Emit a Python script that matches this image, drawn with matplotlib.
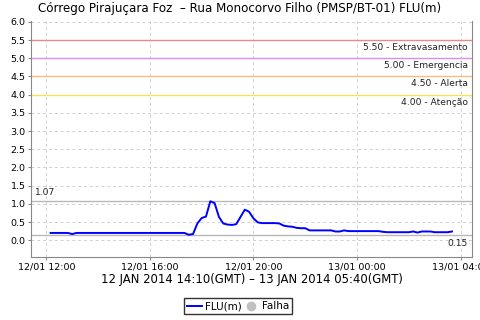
#!/usr/bin/env python3
# -*- coding: utf-8 -*-

from datetime import datetime, timedelta

import matplotlib
matplotlib.use("Agg")
import matplotlib.pyplot as plt
import matplotlib.dates as mdates
from matplotlib.lines import Line2D

# ---- data -----------------------------------------------------------------
START = datetime(2014, 1, 12, 12, 10)      # local time, every 10 min
STEP_MIN = 10

flu_m = [
    # 12:10 .. 17:20
    0.20, 0.20, 0.20, 0.20, 0.20, 0.17, 0.20, 0.20, 0.20, 0.20,
    0.20, 0.20, 0.20, 0.20, 0.20, 0.20, 0.20, 0.20, 0.20, 0.20,
    0.20, 0.20, 0.20, 0.20, 0.20, 0.20, 0.20, 0.20, 0.20, 0.20,
    0.20, 0.20,
    # 17:30 .. 20:00
    0.15, 0.17, 0.46, 0.61, 0.65, 1.07, 1.02, 0.64, 0.46, 0.43,
    0.42, 0.44, 0.64, 0.84, 0.78, 0.60,
    # 20:10 .. 00:00
    0.49, 0.47, 0.47, 0.47, 0.47, 0.46, 0.40, 0.38, 0.37, 0.34,
    0.33, 0.33, 0.27, 0.27, 0.27, 0.27, 0.27, 0.27, 0.24, 0.24,
    0.27, 0.25, 0.25, 0.25,
    # 00:10 .. 03:40
    0.25, 0.25, 0.25, 0.25, 0.25, 0.23, 0.22, 0.22, 0.22, 0.22,
    0.22, 0.22, 0.24, 0.21, 0.24, 0.24, 0.24, 0.22, 0.22, 0.22,
    0.22, 0.24,
]
times = [START + timedelta(minutes=STEP_MIN * i) for i in range(len(flu_m))]

threshold_values = [5.50, 5.00, 4.50, 4.00]
threshold_names = ["Extravasamento", "Emergencia", "Alerta", "Atenção"]
threshold_colors = ["#e88a8a", "#e58ae5", "#ffbb77", "#f5e35a"]

title = "Córrego Pirajuçara Foz  – Rua Monocorvo Filho (PMSP/BT-01) FLU(m)"
xlabel = "12 JAN 2014 14:10(GMT) – 13 JAN 2014 05:40(GMT)"

# ---- chart ----------------------------------------------------------------
plt.rcParams["font.family"] = ["DejaVu Sans"]

fig = plt.figure(figsize=(4.8, 3.2), dpi=100)
ax = fig.add_axes([0.065, 0.197, 0.918, 0.737])

ax.set_xlim(datetime(2014, 1, 12, 11, 25), datetime(2014, 1, 13, 4, 26))
ax.set_ylim(-0.46, 6.02)

ax.grid(True, color="#d0d0d0", linestyle=(0, (3, 3)), linewidth=0.7)
ax.set_axisbelow(True)

for v, name, c in zip(threshold_values, threshold_names, threshold_colors):
    ax.axhline(v, color=c, linewidth=1.0, zorder=2)
    ax.text(0.991, v - 0.08, f"{v:.2f} - {name}", transform=ax.get_yaxis_transform(),
            ha="right", va="top", fontsize=6.6, color="#222222")

vmax, vmin = max(flu_m), min(flu_m)
ax.axhline(vmax, color="#b8b8b8", linewidth=1.0, zorder=2)
ax.axhline(vmin, color="#b8b8b8", linewidth=1.0, zorder=2)
ax.text(0.008, vmax + 0.12, f"{vmax:.2f}", transform=ax.get_yaxis_transform(),
        ha="left", va="bottom", fontsize=6.6, color="#222222")
ax.text(0.991, vmin - 0.12, f"{vmin:.2f}", transform=ax.get_yaxis_transform(),
        ha="right", va="top", fontsize=6.6, color="#222222")

ax.plot(times, flu_m, color="#0000ff", linewidth=1.4, zorder=3)

ax.yaxis.set_major_locator(plt.MultipleLocator(0.5))
ax.yaxis.set_major_formatter(plt.FormatStrFormatter("%.1f"))
ax.xaxis.set_major_locator(mdates.HourLocator(byhour=[0, 4, 8, 12, 16, 20]))
ax.xaxis.set_major_formatter(mdates.DateFormatter("%d/%m %H:%M"))
ax.tick_params(labelsize=6.8, length=2, color="#888888", pad=2)

for side in ("left", "bottom", "right"):
    ax.spines[side].set_color("#888888")
ax.spines["top"].set_visible(False)

fig.text(0.5, 0.972, title, ha="center", va="center", fontsize=8.6)
ax.set_xlabel(xlabel, fontsize=8.4, labelpad=1)

handles = [
    Line2D([], [], color="#0000ff", linewidth=1.4, label="FLU(m)"),
    Line2D([], [], color="#c0c0c0", marker="o", linestyle="none",
           markersize=6, label="Falha"),
]
fig.legend(handles=handles, loc="center", bbox_to_anchor=(0.496, 0.043), ncol=2,
           fontsize=7.5, frameon=True, fancybox=False, edgecolor="black",
           handlelength=1.4, handletextpad=0.3, columnspacing=0.2,
           borderpad=0.3, borderaxespad=0)

fig.savefig("out.png", dpi=100)
